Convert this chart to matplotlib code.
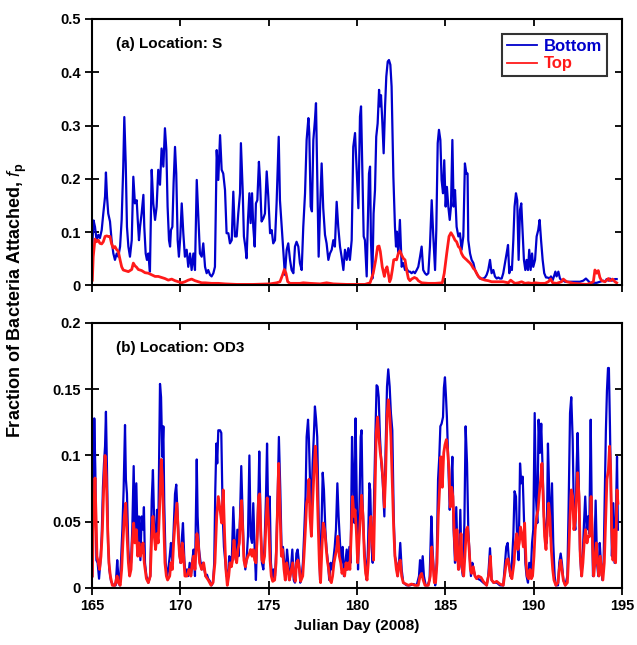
import numpy as np
import matplotlib
matplotlib.use('Agg')
import matplotlib.pyplot as plt
from matplotlib.ticker import FormatStrFormatter

plt.rcParams['font.family'] = ['Liberation Sans', 'DejaVu Sans']
plt.rcParams['mathtext.fontset'] = 'custom'
plt.rcParams['mathtext.it'] = 'Liberation Sans:italic'
plt.rcParams['mathtext.rm'] = 'Liberation Sans:bold'

# (day, value) pairs
# panel (a) location S
s_bottom = [
    (165.02, .079), (165.09, .122), (165.17, .110), (165.26, .085), (165.36, .095), (165.45, .089), (165.55, .104),
    (165.64, .135), (165.74, .167), (165.79, .212), (165.85, .167), (165.92, .135), (166.02, .120), (166.11, .085),
    (166.21, .060), (166.30, .048), (166.40, .060), (166.49, .054), (166.59, .073), (166.68, .123), (166.77, .223),
    (166.83, .316), (166.91, .229), (166.98, .110), (167.06, .073), (167.15, .054), (167.25, .085), (167.34, .204),
    (167.43, .154), (167.53, .160), (167.59, .123), (167.66, .085), (167.72, .110), (167.81, .135), (167.91, .170),
    (167.96, .110), (168.04, .060), (168.11, .048), (168.19, .060), (168.28, .026), (168.38, .217), (168.47, .154),
    (168.57, .123), (168.66, .148), (168.75, .217), (168.85, .189), (168.94, .257), (169.04, .223), (169.13, .295),
    (169.21, .254), (169.28, .148), (169.36, .085), (169.42, .073), (169.47, .104), (169.55, .110), (169.62, .192),
    (169.70, .260), (169.77, .210), (169.85, .085), (169.92, .054), (170.00, .092), (170.08, .154), (170.17, .098),
    (170.26, .054), (170.36, .067), (170.45, .035), (170.55, .060), (170.64, .029), (170.74, .060), (170.83, .029),
    (170.93, .198), (171.02, .129), (171.11, .060), (171.21, .054), (171.30, .079), (171.40, .035), (171.49, .023),
    (171.58, .029), (171.68, .020), (171.77, .017), (171.87, .023), (171.96, .035), (172.06, .254), (172.15, .198),
    (172.25, .282), (172.34, .217), (172.43, .210), (172.53, .179), (172.62, .098), (172.72, .098), (172.81, .079),
    (172.91, .085), (173.00, .176), (173.09, .092), (173.19, .092), (173.28, .135), (173.38, .173), (173.43, .267),
    (173.53, .179), (173.60, .092), (173.68, .073), (173.75, .051), (173.83, .123), (173.91, .173), (173.98, .117),
    (174.06, .173), (174.13, .110), (174.21, .073), (174.28, .154), (174.36, .160), (174.45, .232), (174.51, .198),
    (174.60, .120), (174.70, .126), (174.79, .135), (174.89, .214), (174.98, .167), (175.08, .098), (175.17, .104),
    (175.26, .079), (175.36, .085), (175.45, .154), (175.57, .279), (175.64, .160), (175.74, .110), (175.83, .067),
    (175.92, .020), (176.02, .067), (176.11, .079), (176.21, .048), (176.30, .029), (176.40, .023), (176.49, .073),
    (176.58, .082), (176.68, .073), (176.77, .042), (176.87, .029), (176.96, .110), (177.06, .173), (177.15, .273),
    (177.25, .314), (177.30, .286), (177.38, .148), (177.45, .139), (177.53, .273), (177.62, .310), (177.68, .342),
    (177.75, .210), (177.83, .054), (177.91, .142), (178.00, .229), (178.09, .145), (178.19, .095), (178.28, .079),
    (178.38, .048), (178.47, .060), (178.57, .067), (178.66, .085), (178.75, .073), (178.85, .157), (178.94, .110),
    (179.04, .073), (179.13, .054), (179.23, .029), (179.32, .067), (179.42, .048), (179.51, .070), (179.60, .048),
    (179.70, .085), (179.79, .260), (179.89, .286), (179.98, .217), (180.08, .145), (180.17, .317), (180.23, .336),
    (180.30, .223), (180.38, .092), (180.45, .085), (180.55, .017), (180.60, .098), (180.68, .210), (180.74, .223),
    (180.79, .085), (180.87, .013), (180.94, .135), (181.02, .179), (181.09, .279), (181.17, .304), (181.25, .367),
    (181.30, .336), (181.36, .357), (181.43, .310), (181.51, .248), (181.59, .336), (181.66, .392), (181.74, .420),
    (181.81, .423), (181.89, .414), (181.96, .373), (182.06, .204), (182.15, .110), (182.21, .073), (182.26, .101),
    (182.34, .060), (182.43, .123), (182.53, .035), (182.62, .042), (182.72, .029), (182.81, .032), (182.91, .026),
    (183.00, .026), (183.09, .023), (183.19, .026), (183.28, .023), (183.38, .029), (183.47, .035), (183.57, .054),
    (183.66, .073), (183.75, .029), (183.85, .023), (183.94, .020), (184.04, .023), (184.13, .073), (184.23, .160),
    (184.32, .092), (184.42, .029), (184.49, .104), (184.57, .267), (184.64, .292), (184.72, .273), (184.79, .198),
    (184.87, .173), (184.94, .235), (185.02, .148), (185.09, .185), (185.17, .148), (185.25, .123), (185.32, .148),
    (185.40, .273), (185.47, .148), (185.55, .179), (185.64, .110), (185.74, .092), (185.83, .098), (185.92, .067),
    (186.02, .092), (186.11, .229), (186.19, .210), (186.26, .210), (186.30, .085), (186.40, .060), (186.49, .048),
    (186.59, .042), (186.68, .029), (186.77, .023), (186.87, .017), (186.96, .013), (187.06, .013), (187.15, .013),
    (187.25, .015), (187.34, .020), (187.43, .029), (187.53, .048), (187.62, .023), (187.72, .029), (187.81, .017),
    (187.91, .013), (188.00, .015), (188.09, .013), (188.19, .013), (188.28, .023), (188.38, .042), (188.47, .060),
    (188.55, .076), (188.62, .023), (188.70, .035), (188.77, .029), (188.85, .085), (188.92, .148), (189.00, .173),
    (189.07, .160), (189.15, .048), (189.23, .142), (189.30, .154), (189.38, .098), (189.45, .048), (189.53, .029),
    (189.60, .048), (189.68, .029), (189.75, .067), (189.83, .029), (189.91, .060), (189.98, .035), (190.08, .048),
    (190.17, .092), (190.26, .104), (190.34, .123), (190.42, .085), (190.51, .048), (190.60, .023), (190.70, .015),
    (190.79, .015), (190.89, .013), (190.98, .017), (191.08, .010), (191.15, .017), (191.23, .026), (191.30, .017),
    (191.40, .026), (191.49, .013), (191.58, .010), (191.68, .009), (191.77, .007), (191.87, .007), (192.06, .007),
    (192.25, .007), (192.43, .007), (192.62, .007), (192.81, .009), (192.96, .013), (193.08, .009), (193.19, .005),
    (193.38, .005), (193.57, .005), (193.75, .007), (193.94, .009), (194.04, .007), (194.13, .012), (194.23, .009),
    (194.32, .013), (194.42, .009), (194.51, .010), (194.60, .012), (194.70, .012),
]
s_top = [
    (165.02, .010), (165.07, .054), (165.17, .087), (165.26, .082), (165.36, .085), (165.45, .079), (165.55, .078),
    (165.64, .082), (165.74, .092), (165.83, .093), (165.92, .092), (166.02, .092), (166.11, .078), (166.21, .070),
    (166.30, .073), (166.40, .067), (166.49, .064), (166.59, .048), (166.68, .035), (166.77, .029), (166.87, .028),
    (167.06, .026), (167.25, .030), (167.34, .042), (167.43, .037), (167.53, .034), (167.62, .030), (167.81, .028),
    (168.00, .024), (168.19, .023), (168.38, .020), (168.57, .017), (168.75, .017), (168.94, .015), (169.13, .013),
    (169.32, .010), (169.51, .012), (169.70, .009), (169.89, .007), (170.08, .005), (170.26, .007), (170.45, .010),
    (170.64, .012), (170.83, .009), (171.02, .007), (171.21, .005), (171.40, .005), (171.77, .004), (172.15, .004),
    (172.53, .003), (173.19, .002), (174.13, .002), (175.08, .003), (175.45, .005), (175.64, .007), (175.79, .020),
    (175.89, .030), (175.98, .023), (176.08, .007), (176.21, .004), (176.77, .004), (176.96, .005), (177.34, .004),
    (177.91, .003), (178.28, .005), (178.66, .003), (179.42, .002), (180.45, .002), (180.74, .005), (180.92, .023),
    (181.06, .048), (181.17, .073), (181.25, .074), (181.32, .064), (181.43, .035), (181.55, .017), (181.62, .029),
    (181.70, .035), (181.77, .023), (181.85, .007), (181.92, .013), (182.00, .029), (182.08, .048), (182.15, .049),
    (182.24, .048), (182.34, .060), (182.43, .065), (182.53, .057), (182.62, .051), (182.72, .048), (182.81, .029),
    (182.91, .013), (183.00, .009), (183.09, .012), (183.25, .015), (183.38, .013), (183.47, .009), (183.66, .005),
    (184.04, .004), (184.42, .004), (184.83, .005), (184.94, .023), (185.08, .060), (185.21, .092), (185.32, .099),
    (185.45, .092), (185.55, .085), (185.64, .082), (185.74, .073), (185.83, .070), (185.92, .060), (186.02, .054),
    (186.11, .051), (186.21, .048), (186.30, .045), (186.40, .042), (186.49, .038), (186.59, .032), (186.68, .029),
    (186.77, .023), (186.87, .017), (187.06, .012), (187.25, .010), (187.43, .009), (187.62, .007), (187.91, .007),
    (188.28, .007), (188.57, .005), (188.70, .010), (188.81, .007), (188.94, .004), (189.13, .005), (189.32, .007),
    (189.51, .004), (189.70, .005), (189.89, .004), (190.08, .005), (190.36, .004), (190.64, .004), (190.83, .007),
    (190.96, .012), (191.08, .005), (191.30, .004), (191.58, .007), (191.68, .012), (191.87, .007), (192.25, .004),
    (192.62, .003), (193.00, .002), (193.19, .004), (193.38, .007), (193.47, .029), (193.57, .023), (193.66, .028),
    (193.75, .015), (193.85, .009), (194.04, .007), (194.23, .013), (194.32, .009), (194.47, .012), (194.60, .007),
    (194.70, .005),
]

# panel (b) location OD3
od3_bottom = [
    (165.02, .009), (165.07, .061), (165.13, .128), (165.19, .089), (165.25, .021), (165.32, .019), (165.40, .007),
    (165.47, .019), (165.55, .039), (165.62, .076), (165.68, .094), (165.74, .107), (165.79, .133), (165.85, .089),
    (165.91, .034), (165.98, .014), (166.08, .005), (166.21, .002), (166.34, .002), (166.43, .021), (166.49, .009),
    (166.57, .002), (166.64, .019), (166.72, .044), (166.79, .074), (166.87, .123), (166.92, .082), (166.98, .071),
    (167.06, .029), (167.13, .014), (167.21, .019), (167.28, .044), (167.36, .092), (167.43, .039), (167.51, .079),
    (167.59, .031), (167.66, .054), (167.74, .021), (167.81, .054), (167.89, .044), (167.94, .061), (168.00, .019),
    (168.08, .009), (168.19, .004), (168.30, .009), (168.38, .066), (168.45, .089), (168.53, .044), (168.60, .031),
    (168.68, .059), (168.75, .041), (168.85, .154), (168.91, .144), (168.98, .099), (169.04, .122), (169.09, .064),
    (169.17, .019), (169.25, .009), (169.32, .014), (169.40, .024), (169.47, .034), (169.55, .019), (169.62, .044),
    (169.70, .071), (169.77, .078), (169.85, .054), (169.92, .034), (170.00, .019), (170.08, .036), (170.15, .049),
    (170.23, .021), (170.30, .009), (170.38, .014), (170.45, .009), (170.53, .019), (170.60, .009), (170.68, .021),
    (170.75, .029), (170.83, .009), (170.93, .097), (170.98, .054), (171.06, .029), (171.13, .021), (171.21, .014),
    (171.28, .019), (171.36, .014), (171.43, .009), (171.51, .010), (171.58, .007), (171.68, .005), (171.77, .002),
    (171.85, .004), (171.92, .019), (171.98, .074), (172.04, .109), (172.09, .094), (172.15, .119), (172.25, .119),
    (172.32, .117), (172.40, .054), (172.47, .031), (172.55, .019), (172.62, .009), (172.70, .009), (172.77, .024),
    (172.85, .019), (172.92, .024), (173.00, .061), (173.08, .034), (173.15, .021), (173.23, .044), (173.30, .024),
    (173.38, .054), (173.45, .092), (173.53, .054), (173.60, .024), (173.68, .014), (173.75, .021), (173.83, .039),
    (173.91, .100), (173.98, .039), (174.06, .034), (174.13, .064), (174.21, .029), (174.28, .006), (174.36, .044),
    (174.43, .076), (174.47, .103), (174.55, .044), (174.62, .019), (174.70, .014), (174.77, .034), (174.85, .069),
    (174.91, .109), (174.98, .049), (175.06, .069), (175.13, .019), (175.21, .006), (175.28, .014), (175.36, .009),
    (175.43, .029), (175.51, .069), (175.58, .114), (175.66, .074), (175.74, .024), (175.81, .031), (175.89, .019),
    (175.96, .006), (176.04, .029), (176.11, .019), (176.19, .006), (176.26, .014), (176.34, .029), (176.42, .006),
    (176.49, .004), (176.57, .026), (176.64, .029), (176.72, .019), (176.79, .004), (176.87, .009), (176.94, .019),
    (177.02, .044), (177.09, .069), (177.15, .114), (177.23, .127), (177.28, .112), (177.34, .082), (177.42, .059),
    (177.49, .094), (177.57, .119), (177.62, .137), (177.68, .128), (177.75, .114), (177.83, .054), (177.91, .006),
    (177.98, .039), (178.06, .087), (178.13, .074), (178.21, .044), (178.28, .029), (178.36, .019), (178.43, .006),
    (178.51, .019), (178.58, .014), (178.66, .021), (178.74, .031), (178.81, .044), (178.89, .079), (178.96, .054),
    (179.04, .034), (179.11, .019), (179.19, .031), (179.26, .009), (179.34, .019), (179.42, .029), (179.49, .014),
    (179.57, .031), (179.64, .019), (179.72, .114), (179.79, .084), (179.86, .049), (179.92, .128), (179.98, .074),
    (180.06, .014), (180.13, .054), (180.21, .114), (180.26, .119), (180.32, .064), (180.40, .034), (180.47, .019),
    (180.55, .006), (180.62, .029), (180.70, .079), (180.75, .074), (180.83, .031), (180.89, .019), (180.96, .064),
    (181.04, .114), (181.11, .153), (181.17, .152), (181.23, .144), (181.30, .114), (181.38, .094), (181.45, .082),
    (181.55, .054), (181.62, .104), (181.70, .152), (181.77, .165), (181.85, .152), (181.92, .132), (182.00, .119),
    (182.08, .054), (182.15, .024), (182.23, .019), (182.30, .009), (182.38, .019), (182.45, .034), (182.53, .014),
    (182.62, .004), (182.81, .002), (183.00, .002), (183.19, .003), (183.38, .002), (183.51, .009), (183.57, .021),
    (183.64, .011), (183.72, .024), (183.79, .009), (183.89, .002), (184.00, .002), (184.11, .006), (184.21, .054),
    (184.28, .029), (184.36, .009), (184.43, .002), (184.51, .019), (184.59, .082), (184.66, .099), (184.72, .122),
    (184.79, .124), (184.87, .129), (184.92, .151), (184.98, .159), (185.04, .144), (185.09, .129), (185.17, .094),
    (185.25, .059), (185.32, .074), (185.40, .099), (185.47, .044), (185.55, .019), (185.62, .061), (185.70, .021),
    (185.77, .014), (185.85, .059), (185.92, .016), (186.00, .009), (186.08, .049), (186.15, .122), (186.23, .094),
    (186.30, .044), (186.38, .024), (186.45, .009), (186.53, .019), (186.60, .014), (186.68, .009), (186.83, .007),
    (186.98, .006), (187.15, .004), (187.34, .002), (187.43, .009), (187.53, .030), (187.62, .006), (187.72, .004),
    (187.91, .004), (188.09, .002), (188.28, .002), (188.38, .019), (188.45, .031), (188.53, .034), (188.60, .021),
    (188.68, .009), (188.75, .014), (188.85, .039), (188.92, .073), (189.00, .069), (189.07, .034), (189.15, .021),
    (189.23, .094), (189.30, .079), (189.38, .084), (189.45, .054), (189.53, .019), (189.60, .009), (189.68, .004),
    (189.75, .019), (189.83, .009), (189.91, .034), (189.98, .044), (190.06, .132), (190.13, .069), (190.21, .049),
    (190.28, .127), (190.36, .102), (190.43, .124), (190.51, .089), (190.58, .054), (190.66, .044), (190.74, .034),
    (190.81, .109), (190.89, .069), (190.96, .039), (191.04, .079), (191.11, .034), (191.19, .009), (191.26, .002),
    (191.38, .002), (191.45, .019), (191.53, .026), (191.60, .019), (191.68, .006), (191.79, .002), (191.91, .009),
    (191.98, .061), (192.06, .132), (192.13, .144), (192.21, .112), (192.28, .054), (192.36, .044), (192.43, .089),
    (192.49, .117), (192.55, .084), (192.62, .029), (192.70, .009), (192.77, .021), (192.85, .049), (192.92, .069),
    (193.00, .044), (193.08, .054), (193.15, .041), (193.23, .127), (193.28, .069), (193.36, .009), (193.43, .021),
    (193.51, .066), (193.59, .019), (193.66, .009), (193.74, .034), (193.81, .019), (193.89, .006), (193.96, .019),
    (194.04, .079), (194.09, .119), (194.15, .149), (194.21, .166), (194.26, .166), (194.32, .122), (194.38, .069),
    (194.43, .024), (194.51, .064), (194.58, .019), (194.66, .056), (194.72, .099), (194.77, .044),
]
od3_top = [
    (165.02, .009), (165.09, .054), (165.17, .083), (165.23, .054), (165.28, .024), (165.36, .019), (165.43, .014),
    (165.51, .024), (165.59, .044), (165.66, .074), (165.74, .100), (165.81, .084), (165.89, .044), (165.96, .019),
    (166.04, .009), (166.15, .002), (166.30, .002), (166.42, .009), (166.49, .004), (166.60, .002), (166.68, .014),
    (166.75, .034), (166.83, .054), (166.91, .064), (166.98, .041), (167.06, .019), (167.13, .009), (167.21, .014),
    (167.28, .034), (167.36, .049), (167.43, .034), (167.51, .044), (167.59, .024), (167.66, .034), (167.74, .024),
    (167.81, .029), (167.89, .034), (167.96, .019), (168.08, .007), (168.19, .004), (168.30, .009), (168.38, .039),
    (168.45, .054), (168.53, .039), (168.60, .029), (168.68, .041), (168.75, .034), (168.85, .069), (168.92, .097),
    (168.98, .084), (169.06, .049), (169.13, .019), (169.21, .009), (169.28, .006), (169.40, .009), (169.47, .019),
    (169.55, .014), (169.62, .034), (169.70, .049), (169.81, .064), (169.89, .039), (169.96, .024), (170.04, .019),
    (170.11, .034), (170.19, .024), (170.26, .009), (170.38, .009), (170.49, .014), (170.60, .009), (170.68, .019),
    (170.75, .024), (170.83, .014), (170.94, .041), (171.02, .034), (171.09, .019), (171.21, .014), (171.32, .019),
    (171.43, .009), (171.58, .006), (171.74, .002), (171.85, .004), (171.96, .019), (172.06, .054), (172.15, .069),
    (172.25, .059), (172.34, .049), (172.43, .074), (172.51, .039), (172.58, .014), (172.66, .002), (172.74, .009),
    (172.81, .019), (172.89, .016), (172.96, .021), (173.04, .036), (173.11, .024), (173.19, .019), (173.26, .029),
    (173.34, .034), (173.42, .059), (173.47, .066), (173.53, .044), (173.60, .021), (173.68, .016), (173.75, .021),
    (173.83, .024), (173.91, .026), (173.98, .029), (174.06, .024), (174.13, .029), (174.21, .021), (174.28, .019),
    (174.36, .041), (174.43, .069), (174.49, .071), (174.55, .044), (174.62, .021), (174.70, .019), (174.77, .024),
    (174.85, .049), (174.92, .068), (175.00, .049), (175.08, .021), (175.15, .009), (175.23, .005), (175.34, .006),
    (175.42, .019), (175.49, .054), (175.57, .094), (175.64, .059), (175.72, .024), (175.79, .029), (175.87, .014),
    (175.94, .006), (176.02, .019), (176.09, .014), (176.17, .006), (176.25, .011), (176.36, .019), (176.43, .009),
    (176.51, .005), (176.58, .019), (176.66, .021), (176.74, .014), (176.81, .005), (176.93, .009), (177.00, .024),
    (177.08, .044), (177.15, .064), (177.23, .069), (177.28, .082), (177.34, .054), (177.42, .039), (177.49, .064),
    (177.57, .089), (177.64, .107), (177.72, .089), (177.79, .054), (177.87, .019), (177.94, .004), (178.02, .031),
    (178.09, .049), (178.17, .044), (178.25, .031), (178.32, .021), (178.40, .014), (178.47, .006), (178.55, .004),
    (178.62, .009), (178.70, .019), (178.77, .024), (178.85, .029), (178.92, .039), (179.00, .024), (179.08, .019),
    (179.15, .011), (179.23, .014), (179.30, .009), (179.38, .019), (179.45, .014), (179.53, .019), (179.60, .014),
    (179.68, .044), (179.75, .069), (179.83, .054), (179.89, .059), (179.96, .044), (180.04, .019), (180.11, .034),
    (180.19, .054), (180.26, .070), (180.34, .054), (180.42, .024), (180.49, .011), (180.57, .006), (180.64, .019),
    (180.72, .044), (180.79, .054), (180.87, .034), (180.94, .021), (181.02, .074), (181.09, .117), (181.17, .129),
    (181.25, .112), (181.32, .102), (181.40, .094), (181.47, .082), (181.55, .061), (181.62, .084), (181.70, .129),
    (181.77, .142), (181.85, .132), (181.92, .114), (182.00, .079), (182.08, .044), (182.15, .024), (182.23, .014),
    (182.30, .009), (182.38, .019), (182.45, .021), (182.53, .009), (182.62, .004), (182.91, .002), (183.09, .003),
    (183.28, .002), (183.47, .002), (183.57, .009), (183.66, .011), (183.75, .006), (183.85, .002), (184.04, .002),
    (184.15, .009), (184.23, .031), (184.30, .019), (184.38, .004), (184.45, .004), (184.53, .019), (184.60, .054),
    (184.68, .076), (184.75, .099), (184.83, .076), (184.91, .102), (184.98, .108), (185.06, .112), (185.13, .104),
    (185.21, .089), (185.28, .061), (185.36, .076), (185.43, .069), (185.51, .039), (185.58, .021), (185.66, .044),
    (185.74, .014), (185.81, .019), (185.89, .041), (185.96, .014), (186.04, .009), (186.11, .024), (186.19, .044),
    (186.26, .046), (186.34, .031), (186.42, .014), (186.49, .011), (186.58, .016), (186.68, .009), (186.77, .007),
    (186.87, .009), (187.02, .008), (187.15, .005), (187.34, .002), (187.47, .011), (187.55, .024), (187.62, .006),
    (187.75, .004), (187.91, .005), (188.09, .003), (188.28, .002), (188.40, .014), (188.47, .021), (188.55, .022),
    (188.62, .016), (188.70, .009), (188.77, .007), (188.89, .019), (188.96, .034), (189.04, .041), (189.11, .029),
    (189.19, .034), (189.26, .046), (189.34, .039), (189.42, .031), (189.49, .049), (189.57, .019), (189.64, .009),
    (189.72, .007), (189.79, .014), (189.87, .007), (189.94, .009), (190.02, .024), (190.09, .044), (190.17, .054),
    (190.25, .059), (190.32, .071), (190.40, .082), (190.47, .094), (190.55, .064), (190.62, .039), (190.70, .029),
    (190.77, .044), (190.85, .064), (190.92, .054), (191.00, .029), (191.08, .014), (191.15, .006), (191.26, .002),
    (191.38, .004), (191.45, .014), (191.53, .021), (191.60, .014), (191.68, .006), (191.79, .002), (191.91, .004),
    (191.98, .024), (192.06, .054), (192.13, .074), (192.21, .069), (192.28, .044), (192.36, .051), (192.43, .069),
    (192.49, .087), (192.57, .069), (192.64, .024), (192.72, .009), (192.79, .019), (192.87, .036), (192.94, .044),
    (193.02, .034), (193.09, .039), (193.17, .039), (193.25, .069), (193.32, .039), (193.40, .009), (193.47, .019),
    (193.55, .034), (193.62, .019), (193.70, .009), (193.77, .024), (193.85, .014), (193.92, .006), (194.00, .019),
    (194.08, .054), (194.15, .082), (194.23, .089), (194.30, .107), (194.36, .089), (194.42, .044), (194.49, .021),
    (194.57, .044), (194.64, .019), (194.72, .074), (194.77, .064),
]

x_ticks = [165, 170, 175, 180, 185, 190, 195]
y_ticks_a = [0, 0.1, 0.2, 0.3, 0.4, 0.5]
y_ticks_b = [0, 0.05, 0.1, 0.15, 0.2]

blue = '#0000cc'
red = '#ff1a1a'

fig = plt.figure(figsize=(6.37, 6.45), dpi=100)
ax1 = fig.add_axes([0.1444, 0.5574, 0.832, 0.4132])
ax2 = fig.add_axes([0.1444, 0.0884, 0.832, 0.4109])


def draw(ax, bot, top, ylim, yticks, label):
    b = np.array(bot)
    t = np.array(top)
    ax.plot(b[:, 0], b[:, 1], color=blue, lw=1.6, label='Bottom')
    ax.plot(t[:, 0], t[:, 1], color=red, lw=2.0, label='Top')
    ax.set_xlim(165, 195)
    ax.set_ylim(*ylim)
    ax.set_xticks(x_ticks)
    ax.set_yticks(yticks)
    ax.yaxis.set_major_formatter(FormatStrFormatter('%g'))
    ax.tick_params(which='major', direction='inout', length=10, width=1.3,
                   labelsize=10.5, pad=3)
    ax.tick_params(top=True, right=True)
    for s in ax.spines.values():
        s.set_linewidth(1.5)
    ax.text(0.045, 0.905, label, transform=ax.transAxes, fontsize=11,
            fontweight='bold', va='center')


draw(ax1, s_bottom, s_top, (0, 0.5), y_ticks_a, '(a) Location: S')
draw(ax2, od3_bottom, od3_top, (0, 0.2), y_ticks_b, '(b) Location: OD3')

# ticks on top / right point inward
for ax in (ax1, ax2):
    for t in ax.xaxis.get_major_ticks():
        t.tick2line.set_marker(3)
        t.tick2line.set_markersize(5)
    for t in ax.yaxis.get_major_ticks():
        t.tick2line.set_marker(0)
        t.tick2line.set_markersize(5)
ax1.tick_params(labelbottom=False)
for lab in ax1.get_yticklabels() + ax2.get_yticklabels() + ax2.get_xticklabels():
    lab.set_fontweight('bold')

leg = ax1.legend(loc='upper right', fontsize=12, frameon=True, fancybox=False,
                 handlelength=1.8, handletextpad=0.4, borderpad=0.3,
                 labelspacing=0.15, borderaxespad=0.9)
leg.get_frame().set_edgecolor('black')
leg.get_frame().set_linewidth(1.5)
for txt, c in zip(leg.get_texts(), [blue, red]):
    txt.set_color(c)
    txt.set_fontweight('bold')
for h in leg.get_lines():
    h.set_linewidth(1.3)

ax2.set_xlabel('Julian Day (2008)', fontsize=11, fontweight='bold', labelpad=4)
fig.text(0.028, 0.535, 'Fraction of Bacteria Attached, $f_\\mathrm{p}$',
         rotation=90, ha='center', va='center', fontsize=13, fontweight='bold')

fig.savefig('out.png', dpi=100)
